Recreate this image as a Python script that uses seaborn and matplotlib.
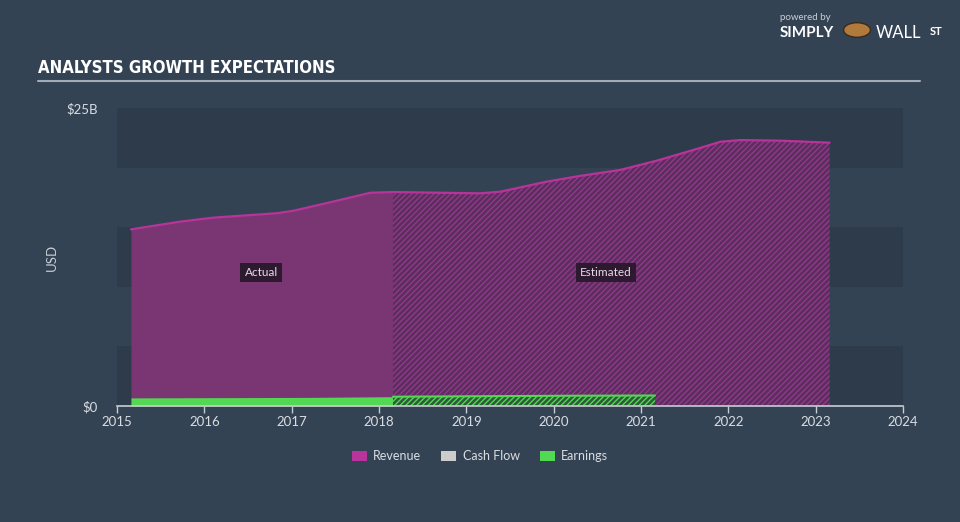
import numpy as np
import pandas as pd
import seaborn as sns
import matplotlib.pyplot as plt
from matplotlib.patches import Rectangle

# revenue, USD billions (actual up to 2018.16, estimated after)
rev_actual_year = [2015.16, 2015.72, 2016.10, 2016.83, 2017.02, 2017.47, 2017.90, 2018.16]
rev_actual_val = [14.82, 15.46, 15.80, 16.17, 16.38, 17.14, 17.89, 17.95]
rev_est_year = [2018.16, 2019.16, 2019.39, 2019.92, 2020.30, 2020.76, 2021.18, 2021.60,
                2021.91, 2022.14, 2022.59, 2023.16]
rev_est_val = [17.95, 17.84, 17.98, 18.82, 19.30, 19.80, 20.58, 21.48,
               22.17, 22.31, 22.26, 22.09]

# earnings, USD billions
earn_actual_year = [2015.16, 2016.16, 2017.16, 2018.16]
earn_actual_val = [0.68, 0.70, 0.72, 0.78]
earn_est_year = [2018.16, 2019.16, 2020.16, 2021.16]
earn_est_val = [0.78, 0.82, 0.86, 0.88]

years = list(range(2015, 2025))
legend_labels = ["Revenue", "Cash Flow", "Earnings"]

bg = "#344354"
band = "#2e3b4a"
rev_line = "#b8349a"
rev_fill = "#7a3672"
green = "#52d852"

sns.set_style("dark")
plt.rcParams["font.family"] = ["Lato", "DejaVu Sans"]
plt.rcParams["hatch.linewidth"] = 1.0

fig = plt.figure(figsize=(9.6, 5.22), dpi=100)
fig.patch.set_facecolor(bg)
ax = fig.add_axes([117 / 960, 1 - 406 / 522, 786 / 960, 298 / 522])
ax.set_facecolor(bg)
ax.set_xlim(2015, 2024)
ax.set_ylim(0, 25)

# alternating background bands
for i, lo in enumerate(range(0, 25, 5)):
    if i % 2 == 0:
        ax.axhspan(lo, lo + 5, color=band, zorder=0, lw=0)

# revenue
ax.fill_between(rev_actual_year, rev_actual_val, color=rev_fill, lw=0, zorder=1)
ax.fill_between(rev_est_year, rev_est_val, facecolor="#5a2e5d", hatch="//////",
                edgecolor="#93388b", lw=0, zorder=1)
line_df = pd.DataFrame({"year": rev_actual_year + rev_est_year[1:],
                        "value": rev_actual_val + rev_est_val[1:]})
sns.lineplot(data=line_df, x="year", y="value", color=rev_line, lw=1.6, ax=ax, zorder=3)

# earnings
ax.fill_between(earn_actual_year, earn_actual_val, color=green, lw=0, zorder=2)
ax.fill_between(earn_est_year, earn_est_val, facecolor="#2f5a3a", hatch="//////",
                edgecolor=green, lw=0, zorder=2)
sns.lineplot(x=earn_est_year, y=earn_est_val, color=green, lw=1.5, ax=ax, zorder=3)

# actual / estimated labels
ax.text(2016.65, 11.2, "Actual", color="#e6dbe6", fontsize=8.5, ha="center", va="center",
        bbox=dict(boxstyle="square,pad=0.35", fc="#2e1a30", ec="none"), zorder=5)
ax.text(2020.6, 11.2, "Estimated", color="#e6dbe6", fontsize=8.5, ha="center", va="center",
        bbox=dict(boxstyle="square,pad=0.35", fc="#2e1a30", ec="none"), zorder=5)

# axes styling
for s in ["top", "right", "left"]:
    ax.spines[s].set_visible(False)
ax.spines["bottom"].set_color("#c8cdd3")
ax.spines["bottom"].set_linewidth(1.2)
ax.set_xticks(years)
ax.set_xticklabels([str(y) for y in years])
ax.tick_params(axis="x", colors="#c8cdd3", labelcolor="#d9dde2", labelsize=9.5,
               length=5, width=1, direction="out", pad=2, bottom=True)
ax.set_yticks([0, 25])
ax.set_yticklabels(["$0", "$25B"])
ax.tick_params(axis="y", length=0, labelcolor="#d9dde2", labelsize=9.5, pad=14)
ax.set_xlabel("")
ax.set_ylabel("USD", color="#c8cdd3", fontsize=9.5, labelpad=6)
ax.grid(False)

# title and rule
fig.text(38 / 960, 1 - 68 / 522, "ANALYSTS GROWTH EXPECTATIONS", color="white",
         fontsize=12, fontweight="bold", family="DejaVu Sans", fontstretch="condensed",
         va="center")
fig.add_artist(plt.Line2D([38 / 960, 920 / 960], [1 - 81 / 522, 1 - 81 / 522],
                          color="#a3acb6", lw=1.5))

# logo text
fig.text(805 / 960, 1 - 18 / 522, "powered by", color="#c9ced4", fontsize=7, ha="center", va="center")
fig.text(807 / 960, 1 - 33 / 522, "SIMPLY", color="white", fontsize=11, fontweight="bold",
         ha="center", va="center")
fig.text(876 / 960, 1 - 33 / 522, "WALL", color="white", fontsize=12, ha="left", va="center")
fig.text(930 / 960, 1 - 31 / 522, "ST", color="white", fontsize=8, fontweight="bold",
         ha="left", va="center")
fig.add_artist(plt.Circle((857 / 960, 1 - 30 / 522), 0.014, transform=fig.transFigure,
                          color="#b07a3c", ec="#3a2a1a"))

# legend
legend_colors = [rev_line, "#cccccc", green]
handles = [Rectangle((0, 0), 1, 1, fc=c, ec="none") for c in legend_colors]
leg = fig.legend(handles, legend_labels, loc="center", bbox_to_anchor=(0.5, 1 - 456 / 522),
                 ncol=3, frameon=False, fontsize=9, handlelength=1.2, handleheight=0.9,
                 columnspacing=1.6, handletextpad=0.5)
for t in leg.get_texts():
    t.set_color("#d9dde2")

fig.savefig("out.png", dpi=100, facecolor=bg)
